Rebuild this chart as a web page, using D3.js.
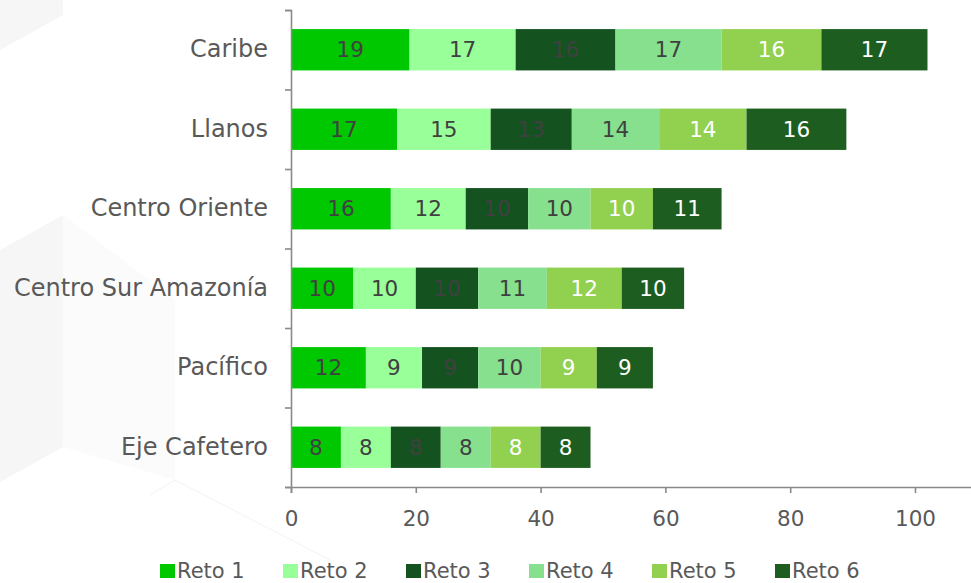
<!DOCTYPE html>
<html>
<head>
<meta charset="utf-8">
<script src="https://cdn.jsdelivr.net/npm/d3@7/dist/d3.min.js"></script>
<style>
  body { margin: 0; background: #fff; }
  svg { display: block; font-family: "DejaVu Sans", Verdana, sans-serif; }
</style>
</head>
<body>
<div id="chart"></div>
<script>
const regions = ["Caribe", "Llanos", "Centro Oriente", "Centro Sur Amazonía", "Pacífico", "Eje Cafetero"];
const series = ["Reto 1", "Reto 2", "Reto 3", "Reto 4", "Reto 5", "Reto 6"];
const reto1 = [19, 17, 16, 10, 12, 8];
const reto2 = [17, 15, 12, 10, 9, 8];
const reto3 = [16, 13, 10, 10, 9, 8];
const reto4 = [17, 14, 10, 11, 10, 8];
const reto5 = [16, 14, 10, 12, 9, 8];
const reto6 = [17, 16, 11, 10, 9, 8];
const xTicks = [0, 20, 40, 60, 80, 100];

const colors = ["#00c800", "#99ff99", "#145220", "#86e08e", "#92d050", "#1d5e20"];
const labelColors = ["#404040", "#404040", "#404040", "#404040", "#ffffff", "#ffffff"];

const w = 971, h = 583;
const padLeft = 291, padTop = 10, axisY = 487;

const table = regions.map((r, i) => ({
  region: r,
  "Reto 1": reto1[i], "Reto 2": reto2[i], "Reto 3": reto3[i],
  "Reto 4": reto4[i], "Reto 5": reto5[i], "Reto 6": reto6[i]
}));
const stacked = d3.stack().keys(series)(table);

const svg = d3.select("#chart").append("svg")
  .attr("width", w)
  .attr("height", h);

// faint background shapes
const bg = svg.append("g");
bg.append("polygon").attr("points", "0,0 63,0 63,15 0,50").attr("fill", "#f6f6f6");
bg.append("polygon").attr("points", "0,250 63,215 63,447 0,482").attr("fill", "#f6f6f6");
bg.append("polygon").attr("points", "63,215 175,300 175,480 63,447").attr("fill", "#fbfbfb");
bg.append("polyline").attr("points", "150,495 175,480 330,560").attr("fill", "none").attr("stroke", "#f3f3f3");

const xScale = d3.scaleLinear()
  .domain([0, 120])
  .range([padLeft, padLeft + 6.24 * 120]);

const yScale = d3.scaleBand()
  .domain(regions)
  .range([padTop, axisY])
  .paddingInner(0.48)
  .paddingOuter(0.24);

const layers = svg.selectAll("g.layer")
  .data(stacked)
  .enter()
  .append("g")
  .attr("class", "layer")
  .attr("fill", (d, i) => colors[i]);

layers.selectAll("rect")
  .data(d => d)
  .enter()
  .append("rect")
  .attr("x", d => xScale(d[0]))
  .attr("y", d => yScale(d.data.region))
  .attr("width", d => xScale(d[1]) - xScale(d[0]))
  .attr("height", yScale.bandwidth());

layers.each(function (s, i) {
  d3.select(this).selectAll("text")
    .data(s)
    .enter()
    .append("text")
    .attr("x", d => (xScale(d[0]) + xScale(d[1])) / 2)
    .attr("y", d => yScale(d.data.region) + yScale.bandwidth() / 2)
    .attr("dy", "0.36em")
    .attr("text-anchor", "middle")
    .attr("font-size", 21.5)
    .attr("fill", labelColors[i])
    .text(d => d[1] - d[0]);
});

// x axis
const xAxis = d3.axisBottom(xScale).tickValues(xTicks).tickSize(6).tickPadding(18);
const gx = svg.append("g")
  .attr("transform", "translate(0," + axisY + ")")
  .call(xAxis);
gx.selectAll("text").attr("font-size", 21.5).attr("fill", "#595959").attr("font-family", "DejaVu Sans, Verdana, sans-serif");

// y axis: boundary ticks
const yLine = d3.scaleLinear().domain([0, regions.length]).range([padTop, axisY]);
svg.append("g")
  .attr("transform", "translate(" + padLeft + ",0)")
  .call(d3.axisLeft(yLine).ticks(regions.length).tickSize(6).tickSizeOuter(6).tickFormat(""));

// y axis labels
const gy = svg.append("g")
  .attr("transform", "translate(" + padLeft + ",0)")
  .call(d3.axisLeft(yScale).tickSize(0).tickPadding(23));
gy.select(".domain").remove();
gy.selectAll("text").attr("font-size", 24).attr("fill", "#595959").attr("font-family", "DejaVu Sans, Verdana, sans-serif");

svg.selectAll(".domain, .tick line").attr("stroke", "#8a8a8a").attr("stroke-width", 1.6);

// legend
const legend = svg.append("g").attr("transform", "translate(160,564)");
const item = legend.selectAll("g")
  .data(series)
  .enter()
  .append("g")
  .attr("transform", (d, i) => "translate(" + (i * 123) + ",0)");
item.append("rect")
  .attr("width", 15)
  .attr("height", 14)
  .attr("fill", (d, i) => colors[i]);
item.append("text")
  .attr("x", 17)
  .attr("y", 13.5)
  .attr("font-size", 21)
  .attr("fill", "#595959")
  .text(d => d);
</script>
</body>
</html>
